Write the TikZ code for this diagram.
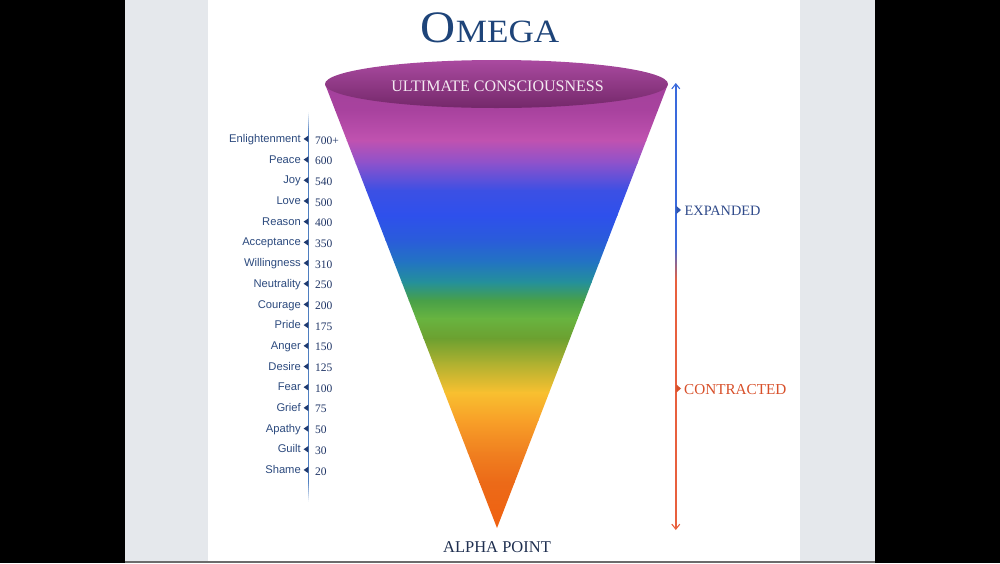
\documentclass[tikz,border=0pt]{standalone}
\usepackage{fontspec}
\newfontfamily\labelfont{Liberation Sans}
\newfontfamily\serifA{Liberation Serif}
\newfontfamily\titlefont[FakeStretch=1.08]{Liberation Serif}
\usetikzlibrary{arrows.meta}
\definecolor{panelgray}{HTML}{E5E8EC}
\definecolor{titleblue}{HTML}{1E4479}
\definecolor{labelblue}{HTML}{2C4A7E}
\definecolor{numblue}{HTML}{1F3566}
\definecolor{scaleblue}{HTML}{4E7EC0}
\definecolor{tricol}{HTML}{1F3A70}
\definecolor{arrblue}{HTML}{3A6ADC}
\definecolor{arrred}{HTML}{E8603E}
\definecolor{expcol}{HTML}{2F4A8A}
\definecolor{concol}{HTML}{D8502A}
\definecolor{alphacol}{HTML}{1F2F50}
\definecolor{ucol}{HTML}{F4EAF2}
\definecolor{elltop}{HTML}{AA4AA0}
\definecolor{ellbot}{HTML}{74286A}
\definecolor{g0}{HTML}{A0409A}
\definecolor{g1}{HTML}{A8429E}
\definecolor{g2}{HTML}{C052B0}
\definecolor{g3}{HTML}{8C52CC}
\definecolor{g4}{HTML}{3C50E4}
\definecolor{g5}{HTML}{2E50EC}
\definecolor{g6}{HTML}{2A5CDA}
\definecolor{g7}{HTML}{2274C2}
\definecolor{g8}{HTML}{24909A}
\definecolor{g9}{HTML}{48A048}
\definecolor{g10}{HTML}{68B440}
\definecolor{g11}{HTML}{6CA030}
\definecolor{g12}{HTML}{ACB030}
\definecolor{g13}{HTML}{F8C030}
\definecolor{g14}{HTML}{F8A028}
\definecolor{g15}{HTML}{F08020}
\definecolor{g16}{HTML}{EC6A18}
\definecolor{g17}{HTML}{F06010}
\tikzset{
  lvl/.style={font=\labelfont\fontsize{11.2}{11.2}\selectfont, text=labelblue, anchor=base east, inner sep=0pt},
  num/.style={font=\serifA\fontsize{11.5}{11.5}\selectfont, text=numblue, anchor=base west, inner sep=0pt},
  sidelab/.style={anchor=base west, inner sep=0pt},
  tip/.style={-{Straight Barb[length=5pt,width=8pt,line width=1.1pt]}},
}
\begin{document}
\begin{tikzpicture}[x=1pt,y=-1pt]
\useasboundingbox (0,0) rectangle (1000,563);
% background
\fill[black] (0,0) rectangle (1000,563);
\fill[panelgray] (125,0) rectangle (875,563);
\fill[white] (208,0) rectangle (800,563);
\fill[gray!85!black] (125,561) rectangle (875,563);

% title
\node[text=titleblue, anchor=base, inner sep=0pt] (omega) at (490,42)
  {\titlefont{\fontsize{45}{45}\selectfont O}{\fontsize{32.5}{32.5}\selectfont MEGA}};

% cone body
\begin{scope}
  \clip (325,84) -- (497,528) -- (668,84) -- cycle;
  \foreach \a/\ca/\b/\cb in {60/g0/110/g1, 110/g1/140/g2, 140/g2/163/g3, 163/g3/190/g4,
     190/g4/215/g5, 215/g5/240/g6, 240/g6/262/g7, 262/g7/282/g8, 282/g8/300/g9,
     300/g9/318/g10, 318/g10/338/g11, 338/g11/362/g12, 362/g12/392/g13,
     392/g13/420/g14, 420/g14/452/g15, 452/g15/482/g16, 482/g16/530/g17}
  { \shade[top color=\ca, bottom color=\cb] (300,\a) rectangle (700,\b+0.7); }
\end{scope}
% cone top
\shade[top color=elltop, bottom color=ellbot] (496.5,84) ellipse [x radius=171.5, y radius=24];
\node[text=ucol, anchor=base, inner sep=0pt, font=\serifA\fontsize{16}{16}\selectfont] (ult) at (497.5,91)
  {ULTIMATE CONSCIOUSNESS};
\coordinate (apex) at (497,528);
\node[text=alphacol, anchor=base, inner sep=0pt, font=\serifA\fontsize{16.5}{16.5}\selectfont] (alpha) at (497,552)
  {ALPHA POINT};

% left scale line (fading ends)
\foreach \k in {0,...,9} {
  \pgfmathsetmacro{\pc}{10*\k+5}
  \fill[scaleblue!\pc!white] (307.5,112+2*\k) rectangle (309,114.3+2*\k);
  \fill[scaleblue!\pc!white] (307.5,502-2*\k) rectangle (309,499.7-2*\k);
}
\fill[scaleblue] (307.5,132) rectangle (309,482);

% levels
\foreach \t/\n [count=\i from 0] in {Enlightenment/700+, Peace/600, Joy/540, Love/500,
   Reason/400, Acceptance/350, Willingness/310, Neutrality/250, Courage/200, Pride/175,
   Anger/150, Desire/125, Fear/100, Grief/75, Apathy/50, Guilt/30, Shame/20}
{
  \pgfmathsetmacro{\yb}{142.5+20.69*\i}
  \pgfmathsetmacro{\ym}{\yb-3.6}
  \node[lvl] (l\i) at (301,\yb) {\t};
  \fill[tricol] (308.4,\ym-3.3) -- (303.6,\ym) -- (308.4,\ym+3.3) -- cycle;
  \node[num] (n\i) at (315,\yb+1.5) {\n};
}

% right arrow
\coordinate (atop) at (675.8,83);
\coordinate (abluend) at (675.8,246);
\coordinate (aredstart) at (675.8,282);
\coordinate (abot) at (675.8,530);
\draw[arrblue, line width=1.5pt, tip] (abluend) -- (atop);
\foreach \k in {0,...,17} {
  \pgfmathsetmacro{\pc}{100-\k*100/17}
  \fill[arrblue!\pc!arrred] (675.05,245.5+2*\k) rectangle (676.55,247.6+2*\k);
}
\draw[arrred, line width=1.5pt, tip] (aredstart) -- (abot);

% markers and labels
\fill[arrblue!80!black] (676.4,206) -- (681,210) -- (676.4,214) -- cycle;
\node[sidelab, text=expcol, font=\serifA\fontsize{14.3}{14.3}\selectfont] (exp) at (684.5,215) {EXPANDED};
\fill[concol] (676.4,384.5) -- (681,388.5) -- (676.4,392.5) -- cycle;
\node[sidelab, text=concol, font=\serifA\fontsize{15.2}{15.2}\selectfont] (con) at (684,394) {CONTRACTED};
\end{tikzpicture}
\end{document}
